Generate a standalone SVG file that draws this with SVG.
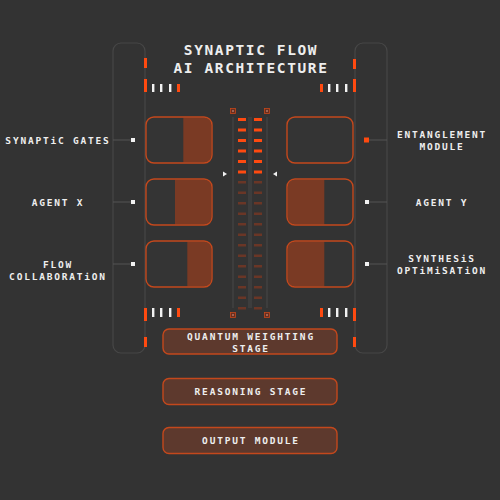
<svg xmlns="http://www.w3.org/2000/svg" width="500" height="500" viewBox="0 0 500 500">
<defs>
<style>
.bg{fill:#333333}
.bracket{fill:none;stroke:#474747;stroke-width:1.2}
.track{stroke:#484848;stroke-width:1}
.hot{fill:#ff4a10}
.wht{fill:#f2f2f2}
.dim{fill:#6a3626}
.boxbg{fill:#343434}
.box{fill:none;stroke:#c4481c;stroke-width:1.4}
.fillp{fill:#7a3a24}
.stage{fill:#5d392d;stroke:#c4481c;stroke-width:1.4}
.conn{stroke:#555555;stroke-width:1}
.node{fill:#f2f2f2}
.t{font-family:"DejaVu Sans Mono","Liberation Mono",monospace;font-weight:bold;fill:#eeeeee;text-anchor:middle;dominant-baseline:central}
.title{font-size:14.5px;letter-spacing:1.6px}
.lbl{font-size:9.5px;letter-spacing:1.8px}
.sq{fill:#6b2e1e;stroke:#c4481c;stroke-width:0.8}
</style>
</defs>
<rect class="bg" x="0" y="0" width="500" height="500"/>

<g id="frame">
<rect class="bracket" x="113" y="43" width="32" height="310" rx="8"/>
<rect class="bracket" x="355" y="43" width="32" height="310" rx="8"/>
<rect class="hot" x="144" y="58" width="3" height="10"/>
<rect class="hot" x="144" y="79" width="3" height="13"/>
<rect class="wht" x="152" y="84" width="2.4" height="8"/>
<rect class="wht" x="160" y="84" width="2.4" height="8"/>
<rect class="wht" x="169" y="84" width="2.4" height="8"/>
<rect class="hot" x="177" y="84" width="3" height="8"/>
<rect class="hot" x="320" y="84" width="3" height="8"/>
<rect class="wht" x="328" y="84" width="2.4" height="8"/>
<rect class="wht" x="336" y="84" width="2.4" height="8"/>
<rect class="wht" x="345" y="84" width="2.4" height="8"/>
<rect class="hot" x="353" y="79" width="3" height="13"/>
<rect class="hot" x="353" y="59" width="3" height="10"/>
<rect class="hot" x="144" y="308" width="3" height="13"/>
<rect class="wht" x="152" y="308" width="2.4" height="9"/>
<rect class="wht" x="160" y="308" width="2.4" height="9"/>
<rect class="wht" x="169" y="308" width="2.4" height="9"/>
<rect class="hot" x="177" y="308" width="3" height="9"/>
<rect class="hot" x="144" y="337" width="3" height="10"/>
<rect class="hot" x="320" y="308" width="3" height="9"/>
<rect class="wht" x="328" y="308" width="2.4" height="9"/>
<rect class="wht" x="336" y="308" width="2.4" height="9"/>
<rect class="wht" x="345" y="308" width="2.4" height="9"/>
<rect class="hot" x="353" y="308" width="3" height="13"/>
<rect class="hot" x="353" y="337" width="3" height="10"/>
</g>

<g id="title">
<text class="t title" x="251" y="50">SYNAPTIC FLOW</text>
<text class="t title" x="251" y="68">AI ARCHITECTURE</text>
</g>

<g id="core">
<line class="track" x1="233" y1="117" x2="233" y2="308"/>
<line class="track" x1="249" y1="117" x2="249" y2="308"/>
<line class="track" x1="251" y1="117" x2="251" y2="308"/>
<line class="track" x1="267" y1="117" x2="267" y2="308"/>
<rect class="sq" x="230.5" y="108.5" width="5" height="5"/>
<rect class="sq" x="264.5" y="108.5" width="5" height="5"/>
<rect class="sq" x="230.5" y="312.5" width="5" height="5"/>
<rect class="sq" x="264.5" y="312.5" width="5" height="5"/>
<rect fill="#d9a090" x="232.3" y="110.3" width="1.4" height="1.4"/>
<rect fill="#d9a090" x="266.3" y="110.3" width="1.4" height="1.4"/>
<rect fill="#d9a090" x="232.3" y="314.3" width="1.4" height="1.4"/>
<rect fill="#d9a090" x="266.3" y="314.3" width="1.4" height="1.4"/>
<g class="hot">
<rect x="238" y="118" width="8" height="3"/><rect x="254" y="118" width="8" height="3"/>
<rect x="238" y="128.5" width="8" height="3"/><rect x="254" y="128.5" width="8" height="3"/>
<rect x="238" y="139" width="8" height="3"/><rect x="254" y="139" width="8" height="3"/>
<rect x="238" y="149.5" width="8" height="3"/><rect x="254" y="149.5" width="8" height="3"/>
<rect x="238" y="160" width="8" height="3"/><rect x="254" y="160" width="8" height="3"/>
<rect x="238" y="170.5" width="8" height="3"/><rect x="254" y="170.5" width="8" height="3"/>
</g>
<g class="dim">
<rect x="238" y="181" width="8" height="2.5"/><rect x="254" y="181" width="8" height="2.5"/>
<rect x="238" y="191.5" width="8" height="2.5"/><rect x="254" y="191.5" width="8" height="2.5"/>
<rect x="238" y="202" width="8" height="2.5"/><rect x="254" y="202" width="8" height="2.5"/>
<rect x="238" y="212.5" width="8" height="2.5"/><rect x="254" y="212.5" width="8" height="2.5"/>
<rect x="238" y="223" width="8" height="2.5"/><rect x="254" y="223" width="8" height="2.5"/>
<rect x="238" y="233.5" width="8" height="2.5"/><rect x="254" y="233.5" width="8" height="2.5"/>
<rect x="238" y="244" width="8" height="2.5"/><rect x="254" y="244" width="8" height="2.5"/>
<rect x="238" y="254.5" width="8" height="2.5"/><rect x="254" y="254.5" width="8" height="2.5"/>
<rect x="238" y="265" width="8" height="2.5"/><rect x="254" y="265" width="8" height="2.5"/>
<rect x="238" y="275.5" width="8" height="2.5"/><rect x="254" y="275.5" width="8" height="2.5"/>
<rect x="238" y="286" width="8" height="2.5"/><rect x="254" y="286" width="8" height="2.5"/>
<rect x="238" y="296.5" width="8" height="2.5"/><rect x="254" y="296.5" width="8" height="2.5"/>
<rect x="238" y="307" width="8" height="2.5"/><rect x="254" y="307" width="8" height="2.5"/>
</g>
<polygon class="wht" points="223,171.5 227,174 223,176.5"/>
<polygon class="wht" points="277,171.5 273,174 277,176.5"/>
</g>

<g id="connectors">
<line class="conn" x1="113" y1="140" x2="131" y2="140"/>
<line class="conn" x1="113" y1="202" x2="131" y2="202"/>
<line class="conn" x1="113" y1="264" x2="131" y2="264"/>
<line class="conn" x1="369" y1="140" x2="387" y2="140"/>
<line class="conn" x1="369" y1="202" x2="387" y2="202"/>
<line class="conn" x1="369" y1="264" x2="387" y2="264"/>
<rect class="node" x="131" y="138" width="4" height="4"/>
<rect class="node" x="131" y="200" width="4" height="4"/>
<rect class="node" x="131" y="262" width="4" height="4"/>
<rect class="hot" x="364" y="137.5" width="5" height="5"/>
<rect class="node" x="365" y="200" width="4" height="4"/>
<rect class="node" x="365" y="262" width="4" height="4"/>
</g>

<g id="synaptic-gates">
<rect class="boxbg" x="146" y="117" width="66" height="46" rx="8"/>
<path class="fillp" d="M183.3,117.7 H204 A7.3,7.3 0 0 1 211.3,125 V155 A7.3,7.3 0 0 1 204,162.3 H183.3 Z"/>
<rect class="box" x="146" y="117" width="66" height="46" rx="8"/>
<text class="t lbl" x="58" y="140">SYNAPTiC GATES</text>
</g>
<g id="agent-x">
<rect class="boxbg" x="146" y="179" width="66" height="46" rx="8"/>
<path class="fillp" d="M175,179.7 H204 A7.3,7.3 0 0 1 211.3,187 V217 A7.3,7.3 0 0 1 204,224.3 H175 Z"/>
<rect class="box" x="146" y="179" width="66" height="46" rx="8"/>
<text class="t lbl" x="58" y="202">AGENT X</text>
</g>
<g id="flow-collaboration">
<rect class="boxbg" x="146" y="241" width="66" height="46" rx="8"/>
<path class="fillp" d="M187.3,241.7 H204 A7.3,7.3 0 0 1 211.3,249 V279 A7.3,7.3 0 0 1 204,286.3 H187.3 Z"/>
<rect class="box" x="146" y="241" width="66" height="46" rx="8"/>
<text class="t lbl" x="58" y="264">FLOW</text>
<text class="t lbl" x="58" y="276.5">COLLABORATiON</text>
</g>

<g id="entanglement-module">
<rect class="boxbg" x="287" y="117" width="66" height="46" rx="8"/>
<rect class="box" x="287" y="117" width="66" height="46" rx="8"/>
<text class="t lbl" x="442" y="134">ENTANGLEMENT</text>
<text class="t lbl" x="442" y="146">MODULE</text>
</g>
<g id="agent-y">
<rect class="boxbg" x="287" y="179" width="66" height="46" rx="8"/>
<path class="fillp" d="M324.3,179.7 H295 A7.3,7.3 0 0 0 287.7,187 V217 A7.3,7.3 0 0 0 295,224.3 H324.3 Z"/>
<rect class="box" x="287" y="179" width="66" height="46" rx="8"/>
<text class="t lbl" x="442" y="202">AGENT Y</text>
</g>
<g id="synthesis-optimisation">
<rect class="boxbg" x="287" y="241" width="66" height="46" rx="8"/>
<path class="fillp" d="M324.3,241.7 H295 A7.3,7.3 0 0 0 287.7,249 V279 A7.3,7.3 0 0 0 295,286.3 H324.3 Z"/>
<rect class="box" x="287" y="241" width="66" height="46" rx="8"/>
<text class="t lbl" x="442" y="258.5">SYNTHESiS</text>
<text class="t lbl" x="442" y="270.5">OPTiMiSATiON</text>
</g>

<g id="quantum-weighting-stage">
<rect class="stage" x="163" y="329" width="174" height="25" rx="6"/>
<text class="t lbl" x="251" y="336.5">QUANTUM WEIGHTING</text>
<text class="t lbl" x="251" y="348.5">STAGE</text>
</g>
<g id="reasoning-stage">
<rect class="stage" x="163" y="378.5" width="174" height="26" rx="6"/>
<text class="t lbl" x="251" y="391.5">REASONING STAGE</text>
</g>
<g id="output-module">
<rect class="stage" x="163" y="427.5" width="174" height="26" rx="6"/>
<text class="t lbl" x="251" y="440.5">OUTPUT MODULE</text>
</g>
</svg>
